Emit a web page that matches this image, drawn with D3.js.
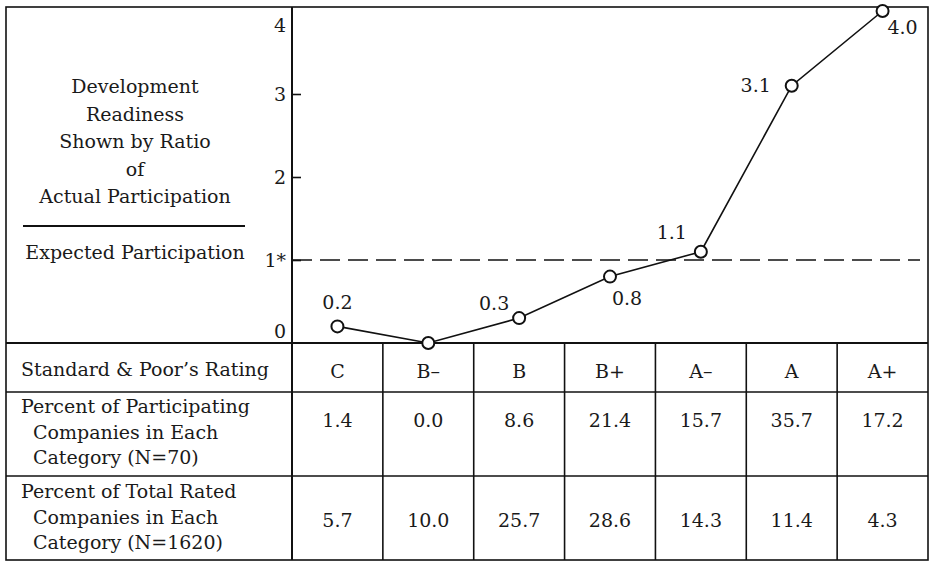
<!DOCTYPE html>
<html>
<head>
<meta charset="utf-8">
<script src="https://cdn.jsdelivr.net/npm/d3@7"></script>
<style>
body { margin: 0; background: #fff; }
text { font-family: "DejaVu Serif", serif; fill: #1a1a1a; }
</style>
</head>
<body>
<svg id="drawing_region"></svg>
<script>
// data
const ratings = ["C", "B\u2013", "B", "B+", "A\u2013", "A", "A+"];
const ratios = [0.2, 0.0, 0.3, 0.8, 1.1, 3.1, 4.0];
const pctParticipating = [1.4, 0.0, 8.6, 21.4, 15.7, 35.7, 17.2];
const pctTotal = [5.7, 10.0, 25.7, 28.6, 14.3, 11.4, 4.3];
const yTicks = [0, 1, 2, 3, 4];
const yTickLabels = ["0", "1*", "2", "3", "4"];
const titleLines = ["Development", "Readiness", "Shown by Ratio", "of", "Actual Participation"];
const titleDenominator = "Expected Participation";
const rowHeader = "Standard & Poor\u2019s Rating";
const rowLabels1 = ["Percent of Participating", "Companies in Each", "Category (N=70)"];
const rowLabels2 = ["Percent of Total Rated", "Companies in Each", "Category (N=1620)"];

// where the point labels sit relative to their markers
const labelPos = [
  {dx: 0, dy: -17},
  null,
  {dx: -25, dy: -8},
  {dx: 17, dy: 28},
  {dx: -29, dy: -13},
  {dx: -36, dy: 6},
  {dx: 20, dy: 23}
];

const W = 930, H = 564;
const frameL = 6, frameR = 928, frameT = 7, axisX = 292;
const zeroY = 343, row1 = 392, row2 = 476, frameB = 560;

const svg = d3.select("#drawing_region")
  .attr("width", W)
  .attr("height", H);

const x = d3.scaleBand()
  .domain(ratings)
  .range([axisX, frameR]);

const y = d3.scaleLinear()
  .domain([0, 4])
  .range([zeroY, 11]);

const fs = 19;

// frame
const frame = svg.append("g")
  .attr("stroke", "#111")
  .attr("fill", "none");
frame.append("rect")
  .attr("x", frameL).attr("y", frameT)
  .attr("width", frameR - frameL).attr("height", frameB - frameT)
  .attr("stroke-width", 1.6);
[zeroY, row1, row2].forEach(yy => {
  frame.append("line")
    .attr("x1", frameL).attr("x2", frameR)
    .attr("y1", yy).attr("y2", yy)
    .attr("stroke-width", yy === zeroY ? 2.2 : 1.6);
});
frame.append("line")
  .attr("x1", axisX).attr("x2", axisX)
  .attr("y1", frameT).attr("y2", frameB)
  .attr("stroke-width", 2);
ratings.slice(1).forEach(r => {
  frame.append("line")
    .attr("x1", x(r)).attr("x2", x(r))
    .attr("y1", zeroY).attr("y2", frameB)
    .attr("stroke-width", 1.6);
});

// y axis
const yaxis = d3.axisLeft(y)
  .tickValues(yTicks)
  .tickFormat((d, i) => yTickLabels[i])
  .tickSize(-9)
  .tickSizeOuter(0)
  .tickPadding(6);
const yg = svg.append("g")
  .attr("transform", `translate(${axisX},0)`)
  .call(yaxis);
yg.select(".domain").remove();
yg.selectAll(".tick line")
  .attr("stroke", "#111")
  .attr("stroke-width", 1.6)
  .filter(d => d === 0 || d === 4).remove();
yg.selectAll(".tick text")
  .attr("font-family", "DejaVu Serif")
  .attr("font-size", fs)
  .attr("fill", "#1a1a1a")
  .attr("dy", d => d === 4 ? "1.1em" : d === 0 ? "-0.3em" : "0.32em");

// reference line at 1
svg.append("line")
  .attr("x1", axisX).attr("x2", 920)
  .attr("y1", y(1)).attr("y2", y(1))
  .attr("stroke", "#111")
  .attr("stroke-width", 1.5)
  .attr("stroke-dasharray", "20,8");

// left title
const tg = svg.append("g").attr("text-anchor", "middle").attr("font-size", fs);
tg.selectAll("text.t")
  .data(titleLines)
  .enter()
  .append("text")
  .attr("class", "t")
  .attr("x", 135)
  .attr("y", (d, i) => 93 + i * 27.5)
  .text(d => d);
svg.append("line")
  .attr("x1", 23).attr("x2", 245)
  .attr("y1", 226).attr("y2", 226)
  .attr("stroke", "#111").attr("stroke-width", 2);
tg.append("text")
  .attr("x", 135).attr("y", 259)
  .text(titleDenominator);

// line and points
const pts = ratings.map((r, i) => ({r: r, v: ratios[i], i: i}));
const line = d3.line()
  .x(d => x(d.r) + x.bandwidth() / 2)
  .y(d => y(d.v));
svg.append("path")
  .datum(pts)
  .attr("d", line)
  .attr("fill", "none")
  .attr("stroke", "#111")
  .attr("stroke-width", 1.6);
svg.selectAll("circle")
  .data(pts)
  .enter()
  .append("circle")
  .attr("cx", d => x(d.r) + x.bandwidth() / 2)
  .attr("cy", d => y(d.v))
  .attr("r", 6)
  .attr("fill", "#fff")
  .attr("stroke", "#111")
  .attr("stroke-width", 2);
svg.selectAll("text.val")
  .data(pts.filter(d => labelPos[d.i]))
  .enter()
  .append("text")
  .attr("class", "val")
  .attr("font-size", fs)
  .attr("text-anchor", "middle")
  .attr("x", d => x(d.r) + x.bandwidth() / 2 + labelPos[d.i].dx)
  .attr("y", d => y(d.v) + labelPos[d.i].dy)
  .text(d => d.v.toFixed(1));

// table
svg.append("text")
  .attr("font-size", fs)
  .attr("x", 21).attr("y", 376)
  .text(rowHeader);
[[rowLabels1, 413], [rowLabels2, 498]].forEach(([lines, y0]) => {
  svg.append("g").selectAll("text")
    .data(lines)
    .enter()
    .append("text")
    .attr("font-size", fs)
    .attr("x", (d, i) => i === 0 ? 21 : 33)
    .attr("y", (d, i) => y0 + i * 25.5)
    .text(d => d);
});
const rows = [
  {vals: ratings, y: (zeroY + row1) / 2 + 10},
  {vals: pctParticipating.map(v => v.toFixed(1)), y: (row1 + row2) / 2 - 7},
  {vals: pctTotal.map(v => v.toFixed(1)), y: (row2 + frameB) / 2 + 9}
];
rows.forEach(row => {
  svg.append("g").selectAll("text")
    .data(row.vals)
    .enter()
    .append("text")
    .attr("font-size", fs)
    .attr("text-anchor", "middle")
    .attr("x", (d, i) => x(ratings[i]) + x.bandwidth() / 2)
    .attr("y", row.y)
    .text(d => d);
});
</script>
</body>
</html>
